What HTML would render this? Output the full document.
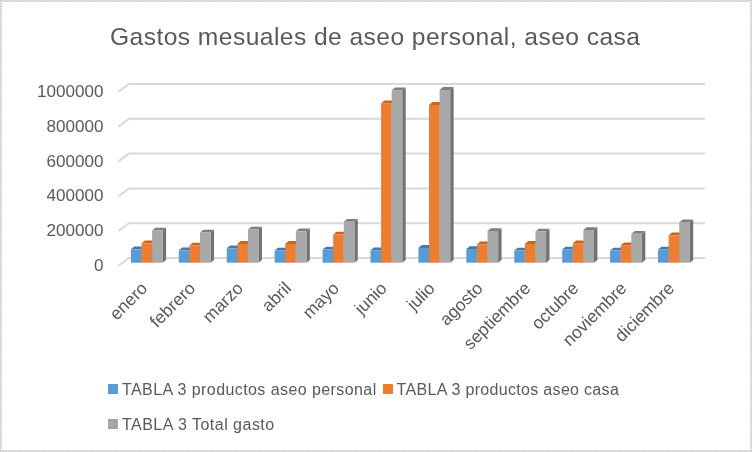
<!DOCTYPE html>
<html><head><meta charset="utf-8"><style>
html,body{margin:0;padding:0;background:#fff;}
body{width:752px;height:452px;overflow:hidden;position:relative;}
.fr{position:absolute;background:#dedede;}
svg{position:absolute;left:0;top:0;will-change:transform;}
text{font-family:"Liberation Sans",sans-serif;fill:#595959;}
.ax{font-size:16px;}
.xl{font-size:17.5px;}
.lg{font-size:16px;}
.ti{font-size:24.6px;}
</style></head><body>
<div class="fr" style="left:0;top:0;width:752px;height:2px;background:repeating-linear-gradient(90deg,#d2d2d2 0 1px,#e0e0e0 1px 3px)"></div>
<div class="fr" style="left:0;top:0;width:2px;height:452px;background:repeating-linear-gradient(180deg,#d2d2d2 0 1px,#e0e0e0 1px 3px)"></div>
<div class="fr" style="left:0;top:450px;width:752px;height:2px;background:repeating-linear-gradient(90deg,#d2d2d2 0 1px,#e0e0e0 1px 3px)"></div>
<div class="fr" style="left:750px;top:0;width:2px;height:452px;background:repeating-linear-gradient(180deg,#d2d2d2 0 1px,#e0e0e0 1px 3px)"></div>
<svg width="752" height="452" viewBox="0 0 752 452">
<polyline points="118.5,91.80 129,84.00 705,84.00" fill="none" stroke="#d9d9d9" stroke-width="2"/>
<polyline points="118.5,126.60 129,118.80 705,118.80" fill="none" stroke="#d9d9d9" stroke-width="2"/>
<polyline points="118.5,161.40 129,153.60 705,153.60" fill="none" stroke="#d9d9d9" stroke-width="2"/>
<polyline points="118.5,196.20 129,188.40 705,188.40" fill="none" stroke="#d9d9d9" stroke-width="2"/>
<polyline points="118.5,231.00 129,223.20 705,223.20" fill="none" stroke="#d9d9d9" stroke-width="2"/>
<polyline points="118.5,265.80 129,258.00 705,258.00" fill="none" stroke="#d9d9d9" stroke-width="2"/>
<text transform="translate(103.6,96.90) scale(1.07,1)" text-anchor="end" class="ax">1000000</text>
<text transform="translate(103.6,131.70) scale(1.07,1)" text-anchor="end" class="ax">800000</text>
<text transform="translate(103.6,166.50) scale(1.07,1)" text-anchor="end" class="ax">600000</text>
<text transform="translate(103.6,201.30) scale(1.07,1)" text-anchor="end" class="ax">400000</text>
<text transform="translate(103.6,236.10) scale(1.07,1)" text-anchor="end" class="ax">200000</text>
<text transform="translate(103.6,270.90) scale(1.07,1)" text-anchor="end" class="ax">0</text>
<polygon points="141.50,262.7 144.90,259.90 144.90,246.50 141.50,249.30" fill="#3f6e98"/>
<polygon points="130.90,249.30 134.30,246.50 144.90,246.50 141.50,249.30" fill="#4279b0"/>
<rect x="130.90" y="249.30" width="10.6" height="13.40" fill="#5b9bd5"/>
<polygon points="152.10,262.7 155.50,259.90 155.50,240.50 152.10,243.30" fill="#ae5a21"/>
<polygon points="141.50,243.30 144.90,240.50 155.50,240.50 152.10,243.30" fill="#c8661f"/>
<rect x="141.50" y="243.30" width="10.6" height="19.40" fill="#ed7d31"/>
<polygon points="162.70,262.7 166.10,259.90 166.10,227.70 162.70,230.50" fill="#717171"/>
<polygon points="152.10,230.50 155.50,227.70 166.10,227.70 162.70,230.50" fill="#7f7f7f"/>
<rect x="152.10" y="230.50" width="10.6" height="32.20" fill="#a8a8a8"/>
<polygon points="189.42,262.7 192.82,259.90 192.82,247.50 189.42,250.30" fill="#3f6e98"/>
<polygon points="178.82,250.30 182.22,247.50 192.82,247.50 189.42,250.30" fill="#4279b0"/>
<rect x="178.82" y="250.30" width="10.6" height="12.40" fill="#5b9bd5"/>
<polygon points="200.02,262.7 203.42,259.90 203.42,242.70 200.02,245.50" fill="#ae5a21"/>
<polygon points="189.42,245.50 192.82,242.70 203.42,242.70 200.02,245.50" fill="#c8661f"/>
<rect x="189.42" y="245.50" width="10.6" height="17.20" fill="#ed7d31"/>
<polygon points="210.62,262.7 214.02,259.90 214.02,229.80 210.62,232.60" fill="#717171"/>
<polygon points="200.02,232.60 203.42,229.80 214.02,229.80 210.62,232.60" fill="#7f7f7f"/>
<rect x="200.02" y="232.60" width="10.6" height="30.10" fill="#a8a8a8"/>
<polygon points="237.34,262.7 240.74,259.90 240.74,245.50 237.34,248.30" fill="#3f6e98"/>
<polygon points="226.74,248.30 230.14,245.50 240.74,245.50 237.34,248.30" fill="#4279b0"/>
<rect x="226.74" y="248.30" width="10.6" height="14.40" fill="#5b9bd5"/>
<polygon points="247.94,262.7 251.34,259.90 251.34,241.10 247.94,243.90" fill="#ae5a21"/>
<polygon points="237.34,243.90 240.74,241.10 251.34,241.10 247.94,243.90" fill="#c8661f"/>
<rect x="237.34" y="243.90" width="10.6" height="18.80" fill="#ed7d31"/>
<polygon points="258.54,262.7 261.94,259.90 261.94,226.80 258.54,229.60" fill="#717171"/>
<polygon points="247.94,229.60 251.34,226.80 261.94,226.80 258.54,229.60" fill="#7f7f7f"/>
<rect x="247.94" y="229.60" width="10.6" height="33.10" fill="#a8a8a8"/>
<polygon points="285.26,262.7 288.66,259.90 288.66,247.80 285.26,250.60" fill="#3f6e98"/>
<polygon points="274.66,250.60 278.06,247.80 288.66,247.80 285.26,250.60" fill="#4279b0"/>
<rect x="274.66" y="250.60" width="10.6" height="12.10" fill="#5b9bd5"/>
<polygon points="295.86,262.7 299.26,259.90 299.26,241.10 295.86,243.90" fill="#ae5a21"/>
<polygon points="285.26,243.90 288.66,241.10 299.26,241.10 295.86,243.90" fill="#c8661f"/>
<rect x="285.26" y="243.90" width="10.6" height="18.80" fill="#ed7d31"/>
<polygon points="306.46,262.7 309.86,259.90 309.86,228.50 306.46,231.30" fill="#717171"/>
<polygon points="295.86,231.30 299.26,228.50 309.86,228.50 306.46,231.30" fill="#7f7f7f"/>
<rect x="295.86" y="231.30" width="10.6" height="31.40" fill="#a8a8a8"/>
<polygon points="333.18,262.7 336.58,259.90 336.58,246.70 333.18,249.50" fill="#3f6e98"/>
<polygon points="322.58,249.50 325.98,246.70 336.58,246.70 333.18,249.50" fill="#4279b0"/>
<rect x="322.58" y="249.50" width="10.6" height="13.20" fill="#5b9bd5"/>
<polygon points="343.78,262.7 347.18,259.90 347.18,231.80 343.78,234.60" fill="#ae5a21"/>
<polygon points="333.18,234.60 336.58,231.80 347.18,231.80 343.78,234.60" fill="#c8661f"/>
<rect x="333.18" y="234.60" width="10.6" height="28.10" fill="#ed7d31"/>
<polygon points="354.38,262.7 357.78,259.90 357.78,218.90 354.38,221.70" fill="#717171"/>
<polygon points="343.78,221.70 347.18,218.90 357.78,218.90 354.38,221.70" fill="#7f7f7f"/>
<rect x="343.78" y="221.70" width="10.6" height="41.00" fill="#a8a8a8"/>
<polygon points="381.10,262.7 384.50,259.90 384.50,247.50 381.10,250.30" fill="#3f6e98"/>
<polygon points="370.50,250.30 373.90,247.50 384.50,247.50 381.10,250.30" fill="#4279b0"/>
<rect x="370.50" y="250.30" width="10.6" height="12.40" fill="#5b9bd5"/>
<polygon points="391.70,262.7 395.10,259.90 395.10,100.40 391.70,103.20" fill="#ae5a21"/>
<polygon points="381.10,103.20 384.50,100.40 395.10,100.40 391.70,103.20" fill="#c8661f"/>
<rect x="381.10" y="103.20" width="10.6" height="159.50" fill="#ed7d31"/>
<polygon points="402.30,262.7 405.70,259.90 405.70,87.40 402.30,90.20" fill="#717171"/>
<polygon points="391.70,90.20 395.10,87.40 405.70,87.40 402.30,90.20" fill="#7f7f7f"/>
<rect x="391.70" y="90.20" width="10.6" height="172.50" fill="#a8a8a8"/>
<polygon points="429.02,262.7 432.42,259.90 432.42,245.10 429.02,247.90" fill="#3f6e98"/>
<polygon points="418.42,247.90 421.82,245.10 432.42,245.10 429.02,247.90" fill="#4279b0"/>
<rect x="418.42" y="247.90" width="10.6" height="14.80" fill="#5b9bd5"/>
<polygon points="439.62,262.7 443.02,259.90 443.02,102.10 439.62,104.90" fill="#ae5a21"/>
<polygon points="429.02,104.90 432.42,102.10 443.02,102.10 439.62,104.90" fill="#c8661f"/>
<rect x="429.02" y="104.90" width="10.6" height="157.80" fill="#ed7d31"/>
<polygon points="450.22,262.7 453.62,259.90 453.62,87.10 450.22,89.90" fill="#717171"/>
<polygon points="439.62,89.90 443.02,87.10 453.62,87.10 450.22,89.90" fill="#7f7f7f"/>
<rect x="439.62" y="89.90" width="10.6" height="172.80" fill="#a8a8a8"/>
<polygon points="476.94,262.7 480.34,259.90 480.34,246.20 476.94,249.00" fill="#3f6e98"/>
<polygon points="466.34,249.00 469.74,246.20 480.34,246.20 476.94,249.00" fill="#4279b0"/>
<rect x="466.34" y="249.00" width="10.6" height="13.70" fill="#5b9bd5"/>
<polygon points="487.54,262.7 490.94,259.90 490.94,241.50 487.54,244.30" fill="#ae5a21"/>
<polygon points="476.94,244.30 480.34,241.50 490.94,241.50 487.54,244.30" fill="#c8661f"/>
<rect x="476.94" y="244.30" width="10.6" height="18.40" fill="#ed7d31"/>
<polygon points="498.14,262.7 501.54,259.90 501.54,228.20 498.14,231.00" fill="#717171"/>
<polygon points="487.54,231.00 490.94,228.20 501.54,228.20 498.14,231.00" fill="#7f7f7f"/>
<rect x="487.54" y="231.00" width="10.6" height="31.70" fill="#a8a8a8"/>
<polygon points="524.86,262.7 528.26,259.90 528.26,247.80 524.86,250.60" fill="#3f6e98"/>
<polygon points="514.26,250.60 517.66,247.80 528.26,247.80 524.86,250.60" fill="#4279b0"/>
<rect x="514.26" y="250.60" width="10.6" height="12.10" fill="#5b9bd5"/>
<polygon points="535.46,262.7 538.86,259.90 538.86,241.10 535.46,243.90" fill="#ae5a21"/>
<polygon points="524.86,243.90 528.26,241.10 538.86,241.10 535.46,243.90" fill="#c8661f"/>
<rect x="524.86" y="243.90" width="10.6" height="18.80" fill="#ed7d31"/>
<polygon points="546.06,262.7 549.46,259.90 549.46,228.70 546.06,231.50" fill="#717171"/>
<polygon points="535.46,231.50 538.86,228.70 549.46,228.70 546.06,231.50" fill="#7f7f7f"/>
<rect x="535.46" y="231.50" width="10.6" height="31.20" fill="#a8a8a8"/>
<polygon points="572.78,262.7 576.18,259.90 576.18,246.70 572.78,249.50" fill="#3f6e98"/>
<polygon points="562.18,249.50 565.58,246.70 576.18,246.70 572.78,249.50" fill="#4279b0"/>
<rect x="562.18" y="249.50" width="10.6" height="13.20" fill="#5b9bd5"/>
<polygon points="583.38,262.7 586.78,259.90 586.78,240.40 583.38,243.20" fill="#ae5a21"/>
<polygon points="572.78,243.20 576.18,240.40 586.78,240.40 583.38,243.20" fill="#c8661f"/>
<rect x="572.78" y="243.20" width="10.6" height="19.50" fill="#ed7d31"/>
<polygon points="593.98,262.7 597.38,259.90 597.38,227.20 593.98,230.00" fill="#717171"/>
<polygon points="583.38,230.00 586.78,227.20 597.38,227.20 593.98,230.00" fill="#7f7f7f"/>
<rect x="583.38" y="230.00" width="10.6" height="32.70" fill="#a8a8a8"/>
<polygon points="620.70,262.7 624.10,259.90 624.10,247.80 620.70,250.60" fill="#3f6e98"/>
<polygon points="610.10,250.60 613.50,247.80 624.10,247.80 620.70,250.60" fill="#4279b0"/>
<rect x="610.10" y="250.60" width="10.6" height="12.10" fill="#5b9bd5"/>
<polygon points="631.30,262.7 634.70,259.90 634.70,242.40 631.30,245.20" fill="#ae5a21"/>
<polygon points="620.70,245.20 624.10,242.40 634.70,242.40 631.30,245.20" fill="#c8661f"/>
<rect x="620.70" y="245.20" width="10.6" height="17.50" fill="#ed7d31"/>
<polygon points="641.90,262.7 645.30,259.90 645.30,230.90 641.90,233.70" fill="#717171"/>
<polygon points="631.30,233.70 634.70,230.90 645.30,230.90 641.90,233.70" fill="#7f7f7f"/>
<rect x="631.30" y="233.70" width="10.6" height="29.00" fill="#a8a8a8"/>
<polygon points="668.62,262.7 672.02,259.90 672.02,246.70 668.62,249.50" fill="#3f6e98"/>
<polygon points="658.02,249.50 661.42,246.70 672.02,246.70 668.62,249.50" fill="#4279b0"/>
<rect x="658.02" y="249.50" width="10.6" height="13.20" fill="#5b9bd5"/>
<polygon points="679.22,262.7 682.62,259.90 682.62,232.50 679.22,235.30" fill="#ae5a21"/>
<polygon points="668.62,235.30 672.02,232.50 682.62,232.50 679.22,235.30" fill="#c8661f"/>
<rect x="668.62" y="235.30" width="10.6" height="27.40" fill="#ed7d31"/>
<polygon points="689.82,262.7 693.22,259.90 693.22,219.60 689.82,222.40" fill="#717171"/>
<polygon points="679.22,222.40 682.62,219.60 693.22,219.60 689.82,222.40" fill="#7f7f7f"/>
<rect x="679.22" y="222.40" width="10.6" height="40.30" fill="#a8a8a8"/>
<text transform="translate(139.90,280.80) rotate(-45)" text-anchor="end" class="xl" dy="12">enero</text>
<text transform="translate(187.82,280.80) rotate(-45)" text-anchor="end" class="xl" dy="12">febrero</text>
<text transform="translate(235.74,280.80) rotate(-45)" text-anchor="end" class="xl" dy="12">marzo</text>
<text transform="translate(283.66,280.80) rotate(-45)" text-anchor="end" class="xl" dy="12">abril</text>
<text transform="translate(331.58,280.80) rotate(-45)" text-anchor="end" class="xl" dy="12">mayo</text>
<text transform="translate(379.50,280.80) rotate(-45)" text-anchor="end" class="xl" dy="12">junio</text>
<text transform="translate(427.42,280.80) rotate(-45)" text-anchor="end" class="xl" dy="12">julio</text>
<text transform="translate(475.34,280.80) rotate(-45)" text-anchor="end" class="xl" dy="12">agosto</text>
<text transform="translate(523.26,280.80) rotate(-45)" text-anchor="end" class="xl" dy="12">septiembre</text>
<text transform="translate(571.18,280.80) rotate(-45)" text-anchor="end" class="xl" dy="12">octubre</text>
<text transform="translate(619.10,280.80) rotate(-45)" text-anchor="end" class="xl" dy="12">noviembre</text>
<text transform="translate(667.02,280.80) rotate(-45)" text-anchor="end" class="xl" dy="12">diciembre</text>
<rect x="108" y="384" width="10" height="10" fill="#5b9bd5"/>
<text x="122" y="394.8" class="lg" textLength="254.2" lengthAdjust="spacing">TABLA 3 productos aseo personal</text>
<rect x="383" y="384" width="10" height="10" fill="#ed7d31"/>
<text x="396.6" y="394.8" class="lg" textLength="222.2" lengthAdjust="spacing">TABLA 3 productos aseo casa</text>
<rect x="108" y="419" width="10" height="10" fill="#a5a5a5"/>
<text x="122" y="429.8" class="lg" textLength="152.2" lengthAdjust="spacing">TABLA 3 Total gasto</text>
<text x="110" y="44.6" class="ti" textLength="530" lengthAdjust="spacing">Gastos mesuales de aseo personal, aseo casa</text>
</svg>
</body></html>
